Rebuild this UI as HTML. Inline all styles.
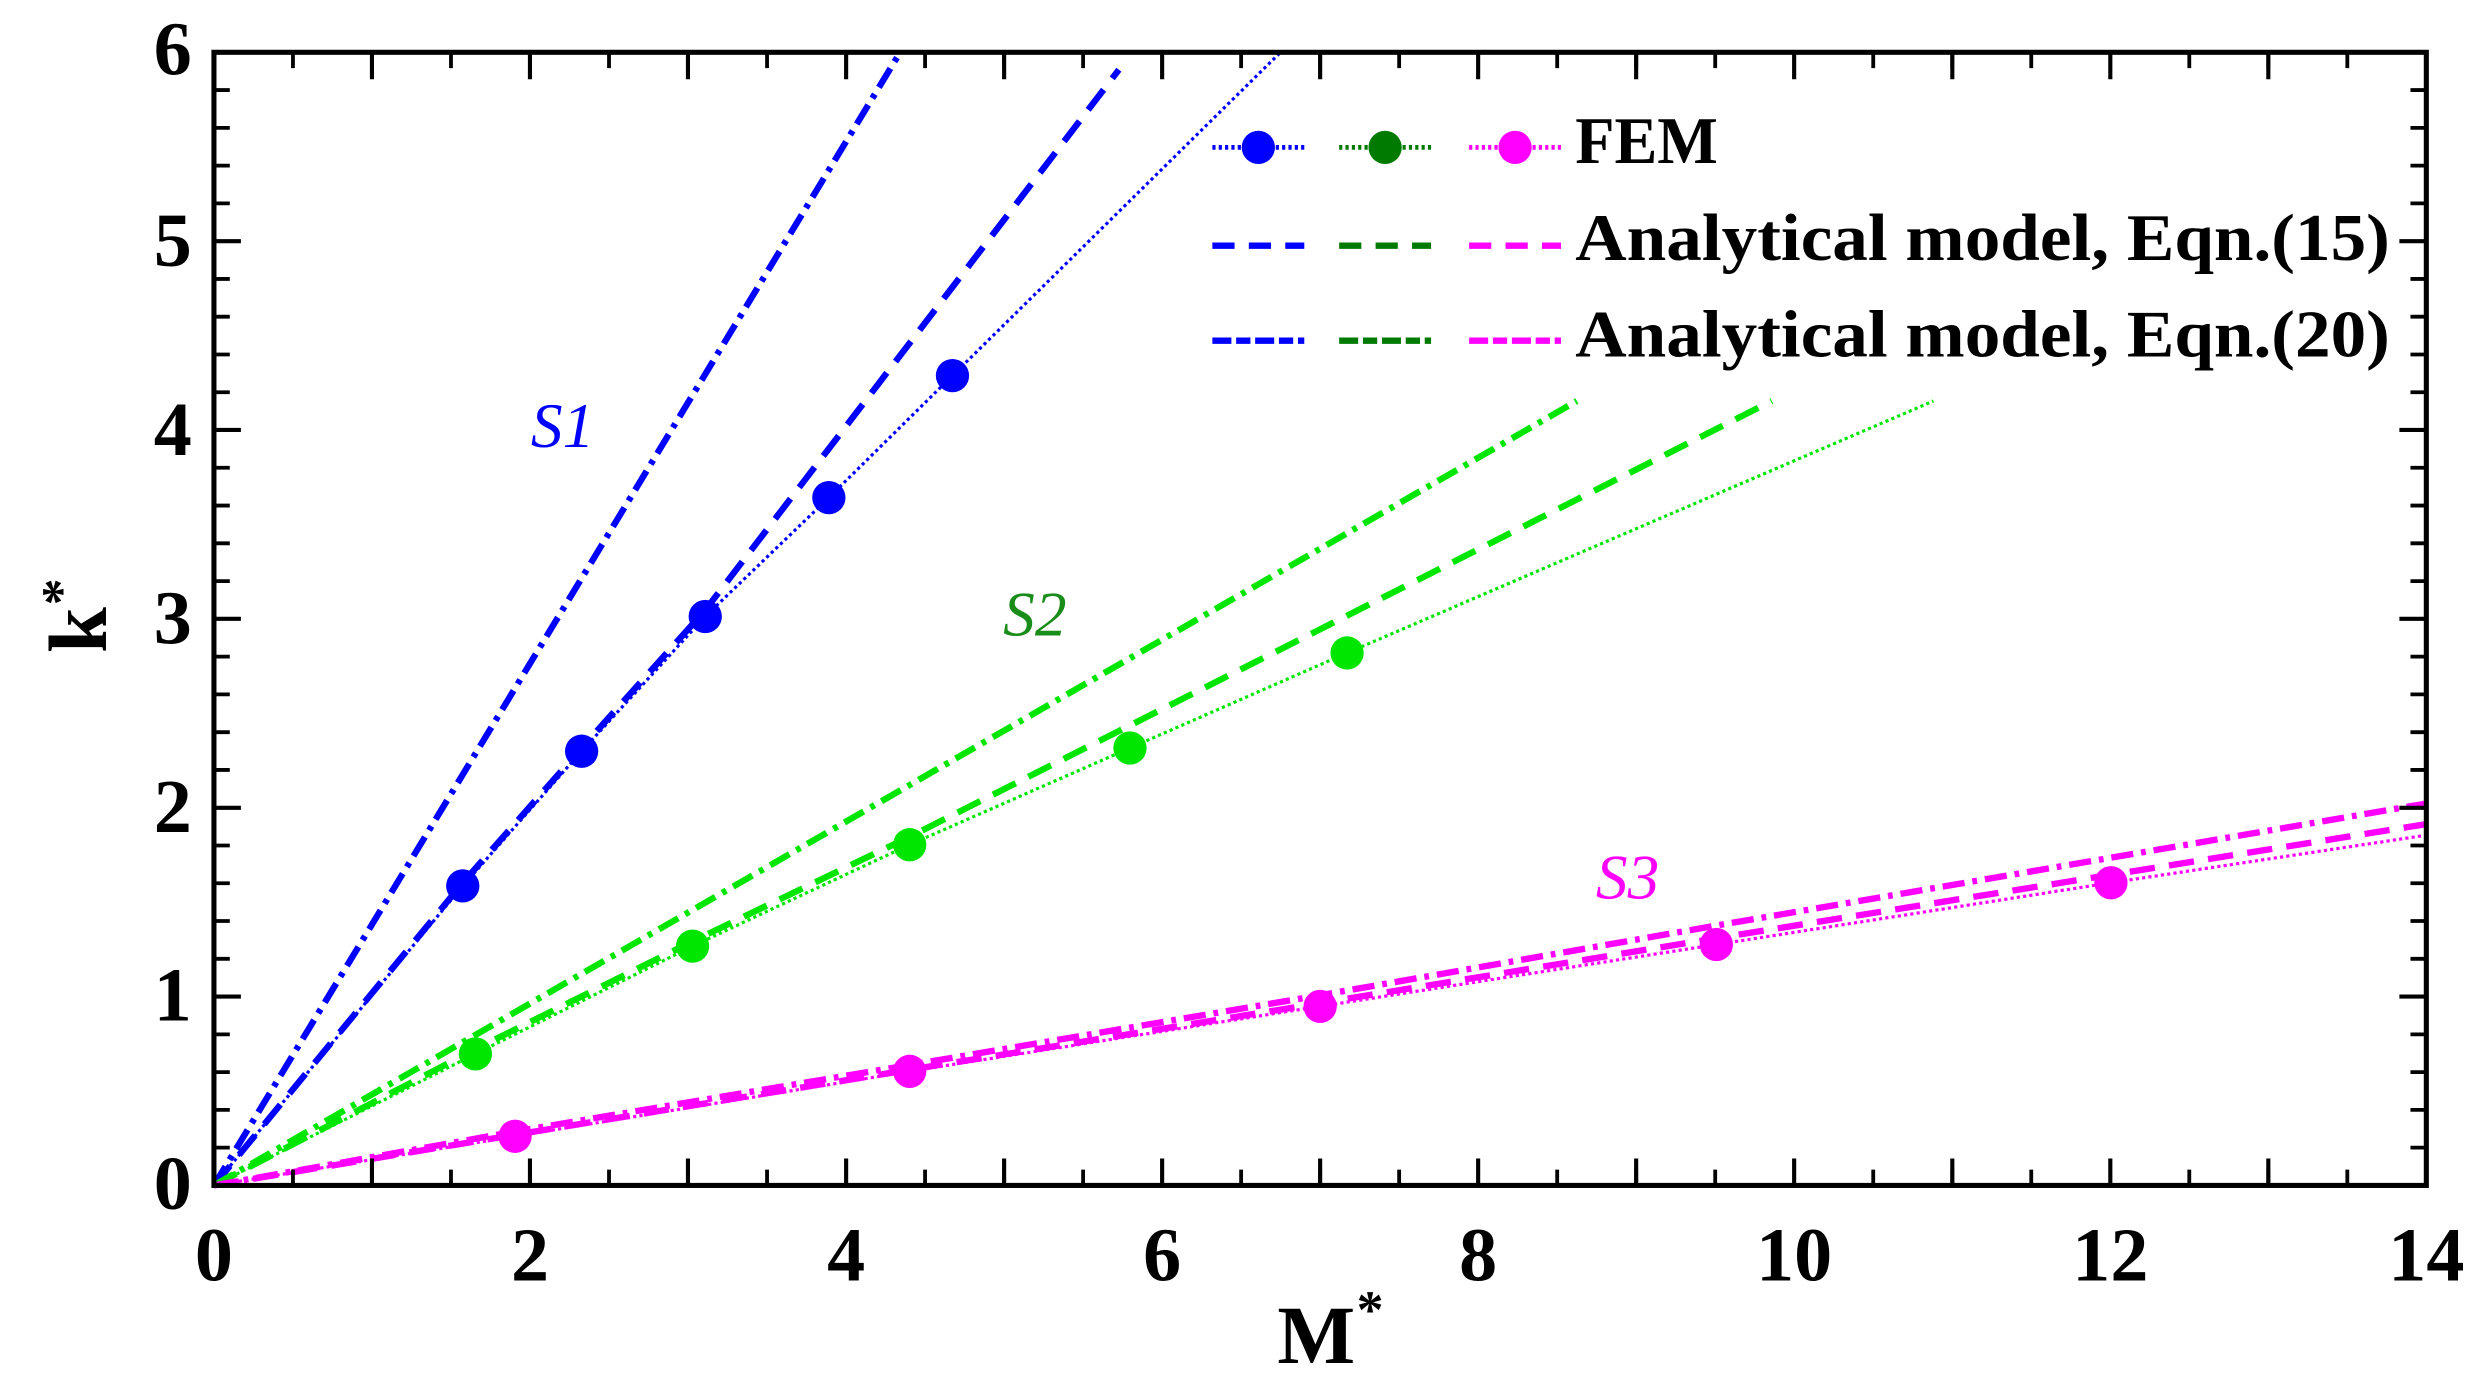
<!DOCTYPE html>
<html><head><meta charset="utf-8"><style>html,body{margin:0;padding:0;background:#fff;}svg{display:block;}</style></head>
<body>
<svg width="2485" height="1382" viewBox="0 0 2485 1382" xmlns="http://www.w3.org/2000/svg">
<g transform="scale(1.5848)">
<g fill="none" stroke-linecap="butt">
<polyline stroke="#0000ff" stroke-width="4" stroke-dasharray="14,5,3,5" points="135,748 568,33"/>
<polyline stroke="#0000ff" stroke-width="4" stroke-dasharray="16,9" points="135,748 292,557 367,472 445,385 706,44"/>
<polyline stroke="#0000ff" stroke-width="2" stroke-dasharray="2,2" points="135,748 292,559 367,474 445,389 523,314 601,237 808,33"/>
<polyline stroke="#00e600" stroke-width="4" stroke-dasharray="14,5,3,5" points="135,748 995,253"/>
<polyline stroke="#00e600" stroke-width="4" stroke-dasharray="16,9" points="135,748 300,662 437,594 574,528 1118,253"/>
<polyline stroke="#00e600" stroke-width="2" stroke-dasharray="2,2" points="135,748 300,665 437,597 574,533 713,472 850,412 1220,253"/>
<polyline stroke="#ff00ff" stroke-width="4" stroke-dasharray="14,5,3,5" points="135,748 325,714 574,672 833,628 1083,584 1531,507"/>
<polyline stroke="#ff00ff" stroke-width="4" stroke-dasharray="16,9" points="135,748 325,716 574,675 833,633 1083,592 1531,520"/>
<polyline stroke="#ff00ff" stroke-width="2" stroke-dasharray="2,2" points="135,748 325,717 574,676 833,635 1083,596 1332,557 1531,527"/>
</g>
<g fill="#0000ff"><circle cx="292" cy="559" r="10.5"/><circle cx="367" cy="474" r="10.5"/><circle cx="445" cy="389" r="10.5"/><circle cx="523" cy="314" r="10.5"/><circle cx="601" cy="237" r="10.5"/></g>
<g fill="#00e600"><circle cx="300" cy="665" r="10.5"/><circle cx="437" cy="597" r="10.5"/><circle cx="574" cy="533" r="10.5"/><circle cx="713" cy="472" r="10.5"/><circle cx="850" cy="412" r="10.5"/></g>
<g fill="#ff00ff"><circle cx="325" cy="717" r="10.5"/><circle cx="574" cy="676" r="10.5"/><circle cx="833" cy="635" r="10.5"/><circle cx="1083" cy="596" r="10.5"/><circle cx="1332" cy="557" r="10.5"/></g>

<rect x="135" y="33" width="1396" height="715" fill="none" stroke="#000" stroke-width="3.2"/>
<g stroke="#000" stroke-width="2.6">
<path d="M135,748v-17M234.7,748v-17M334.4,748v-17M434.1,748v-17M533.9,748v-17M633.6,748v-17M733.3,748v-17M833,748v-17M932.7,748v-17M1032.4,748v-17M1132.1,748v-17M1231.9,748v-17M1331.6,748v-17M1431.3,748v-17M1531,748v-17"/>
<path d="M135,33v17M234.7,33v17M334.4,33v17M434.1,33v17M533.9,33v17M633.6,33v17M733.3,33v17M833,33v17M932.7,33v17M1032.4,33v17M1132.1,33v17M1231.9,33v17M1331.6,33v17M1431.3,33v17M1531,33v17"/>
<path d="M135,748h17M135,628.8h17M135,509.7h17M135,390.5h17M135,271.3h17M135,152.2h17M135,33h17"/>
<path d="M1531,748h-17M1531,628.8h-17M1531,509.7h-17M1531,390.5h-17M1531,271.3h-17M1531,152.2h-17M1531,33h-17"/>
</g>
<g stroke="#000" stroke-width="2.4">
<path id="xm" d=""/>
</g>
<script>
(function(){
var g=document.getElementById('xm'),d="";
for(var i=0;i<=28;i++){if(i%4==0)continue;var x=135+i*1396/28;d+="M"+x+",748v-10M"+x+",33v10";}
for(var j=0;j<=30;j++){if(j%5==0)continue;var y=748-j*715/30;d+="M135,"+y+"h10M1531,"+y+"h-10";}
g.setAttribute('d',d);})();
</script>

<g font-family="'Liberation Serif',serif" font-weight="bold" font-size="48" fill="#000">
<g text-anchor="middle">
<text x="135" y="808">0</text><text x="334.4" y="808">2</text><text x="533.9" y="808">4</text><text x="733.3" y="808">6</text><text x="932.7" y="808">8</text><text x="1132.1" y="808">10</text><text x="1331.6" y="808">12</text><text x="1531" y="808">14</text>
</g>
<g text-anchor="end">
<text x="121" y="763">0</text><text x="121" y="644">1</text><text x="121" y="525">2</text><text x="121" y="406">3</text><text x="121" y="287">4</text><text x="121" y="168">5</text><text x="121" y="47">6</text>
</g>
<text x="806" y="860" font-size="52">M</text><text x="856" y="838" font-size="34">*</text>
<text transform="translate(67,412) rotate(-90)" font-size="52">k</text>
<text transform="translate(50,382) rotate(-90)" font-size="34">*</text>
</g>

<g font-family="'Liberation Serif',serif" font-style="italic" font-size="40">
<text x="335" y="282" fill="#0000ff">S1</text>
<text x="633" y="401" fill="#1a8c1a">S2</text>
<text x="1007" y="567" fill="#ff00ff">S3</text>
</g>

<g fill="none">
<line x1="765" y1="93" x2="823" y2="93" stroke="#0000ff" stroke-width="3" stroke-dasharray="2,2"/>
<line x1="845" y1="93" x2="903" y2="93" stroke="#007a00" stroke-width="3" stroke-dasharray="2,2"/>
<line x1="927" y1="93" x2="985" y2="93" stroke="#ff00ff" stroke-width="3" stroke-dasharray="2,2"/>
<line x1="765" y1="155" x2="823" y2="155" stroke="#0000ff" stroke-width="4" stroke-dasharray="14,9"/>
<line x1="845" y1="155" x2="903" y2="155" stroke="#007a00" stroke-width="4" stroke-dasharray="14,9"/>
<line x1="927" y1="155" x2="985" y2="155" stroke="#ff00ff" stroke-width="4" stroke-dasharray="14,9"/>
<line x1="765" y1="215" x2="823" y2="215" stroke="#0000ff" stroke-width="4" stroke-dasharray="12,3,9,3"/>
<line x1="845" y1="215" x2="903" y2="215" stroke="#007a00" stroke-width="4" stroke-dasharray="12,3,9,3"/>
<line x1="927" y1="215" x2="985" y2="215" stroke="#ff00ff" stroke-width="4" stroke-dasharray="12,3,9,3"/>
</g>
<circle cx="794" cy="93" r="10.5" fill="#0000ff"/>
<circle cx="874" cy="93" r="10.5" fill="#007a00"/>
<circle cx="956" cy="93" r="10.5" fill="#ff00ff"/>
<g font-family="'Liberation Serif',serif" font-weight="bold" font-size="42" fill="#000">
<text x="994" y="103" textLength="90" lengthAdjust="spacingAndGlyphs">FEM</text>
<text x="994" y="164" textLength="514" lengthAdjust="spacingAndGlyphs">Analytical model, Eqn.(15)</text>
<text x="994" y="225" textLength="514" lengthAdjust="spacingAndGlyphs">Analytical model, Eqn.(20)</text>
</g>
</g>
</svg>
</body></html>
